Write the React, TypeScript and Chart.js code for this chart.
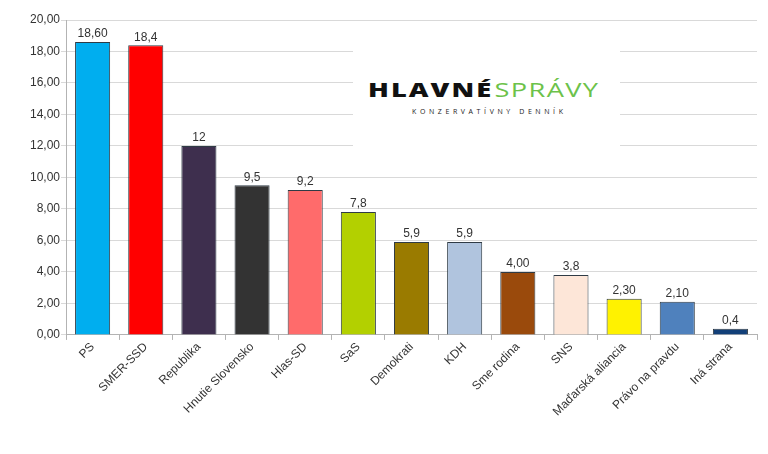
import React, { useEffect, useRef } from "react";
import { Chart, registerables } from "chart.js";

Chart.register(...registerables);

const categories = [
  "PS",
  "SMER-SSD",
  "Republika",
  "Hnutie Slovensko",
  "Hlas-SD",
  "SaS",
  "Demokrati",
  "KDH",
  "Sme rodina",
  "SNS",
  "Maďarská aliancia",
  "Právo na pravdu",
  "Iná strana",
];
const values = [18.6, 18.4, 12, 9.5, 9.2, 7.8, 5.9, 5.9, 4.0, 3.8, 2.3, 2.1, 0.4];
const valueLabels = ["18,60", "18,4", "12", "9,5", "9,2", "7,8", "5,9", "5,9", "4,00", "3,8", "2,30", "2,10", "0,4"];
const barColors = [
  "#00aeef",
  "#ff0000",
  "#3e2f4e",
  "#333333",
  "#ff6b6b",
  "#b3d000",
  "#9a7b00",
  "#b0c4de",
  "#9a4a0c",
  "#fde6d8",
  "#fff200",
  "#4f81bd",
  "#123f78",
];
const yTicks = { min: 0, max: 20, step: 2 };

const valueLabelPlugin = {
  id: "valueLabels",
  afterDatasetsDraw(chart: any) {
    const ctx = chart.ctx;
    const meta = chart.getDatasetMeta(0);
    ctx.save();
    ctx.font = "12px 'Liberation Sans', Arial, sans-serif";
    ctx.fillStyle = "#333333";
    ctx.textAlign = "center";
    ctx.textBaseline = "bottom";
    meta.data.forEach((bar: any, i: number) => {
      ctx.fillText(valueLabels[i], bar.x, bar.y - 2);
    });
    ctx.restore();
  },
};

export default function App() {
  const canvasRef = useRef<HTMLCanvasElement | null>(null);

  useEffect(() => {
    const canvas = canvasRef.current;
    if (!canvas) return;
    const chart = new Chart(canvas, {
      type: "bar",
      data: {
        labels: categories,
        datasets: [
          {
            data: values,
            backgroundColor: barColors,
            borderColor: "#2f3b45",
            borderWidth: 1,
            barPercentage: 0.66,
            categoryPercentage: 1,
          },
        ],
      },
      plugins: [valueLabelPlugin],
      options: {
        responsive: false,
        animation: false,
        maintainAspectRatio: false,
        layout: { padding: { left: 29, right: 11, top: 20, bottom: 35 } },
        plugins: {
          legend: { display: false },
          tooltip: { enabled: false },
        },
        scales: {
          x: {
            grid: {
              display: true,
              drawOnChartArea: false,
              offset: true,
              tickLength: 5,
              color: "#b3b3b3",
            },
            border: { color: "#b3b3b3" },
            ticks: {
              maxRotation: 45,
              minRotation: 45,
              autoSkip: false,
              color: "#333333",
              font: { family: "'Liberation Sans', Arial, sans-serif", size: 12 },
              padding: 0,
            },
          },
          y: {
            min: yTicks.min,
            max: yTicks.max,
            grid: { color: "#d9d9d9", tickLength: 5 },
            border: { color: "#b3b3b3" },
            ticks: {
              stepSize: yTicks.step,
              color: "#333333",
              font: { family: "'Liberation Sans', Arial, sans-serif", size: 12 },
              padding: 1,
              callback: (v: any) => Number(v).toFixed(2).replace(".", ","),
            },
          },
        },
      },
    });
    return () => chart.destroy();
  }, []);

  return (
    <div style={{ position: "absolute", left: 0, top: 0, width: 768, height: 454, background: "#fff" }}>
      <canvas ref={canvasRef} width={768} height={454} style={{ width: 768, height: 454, display: "block" }} />
      <div
        style={{
          position: "absolute",
          left: 353,
          top: 40,
          width: 267,
          height: 112,
          background: "#ffffff",
        }}
      >
        <div
          style={{
            position: "absolute",
            left: 15,
            top: 38,
            fontFamily: "'Open Sans', 'DejaVu Sans', sans-serif",
            fontWeight: 800,
            fontSize: 20,
            lineHeight: "24px",
            whiteSpace: "nowrap",
            transform: "scaleX(1.36)",
            transformOrigin: "left center",
          }}
        >
          <span style={{ color: "#111111", letterSpacing: 1.5 }}>HLAVNÉ</span>
          <span style={{ color: "#6cc24a", fontWeight: 400, letterSpacing: 1, marginLeft: 1 }}>SPRÁVY</span>
        </div>
        <div
          style={{
            position: "absolute",
            left: 59,
            top: 67,
            fontFamily: "'Open Sans', 'DejaVu Sans', sans-serif",
            fontSize: 7,
            letterSpacing: 3.6,
            color: "#222222",
            whiteSpace: "nowrap",
          }}
        >
          KONZERVATÍVNY DENNÍK
        </div>
      </div>
    </div>
  );
}
